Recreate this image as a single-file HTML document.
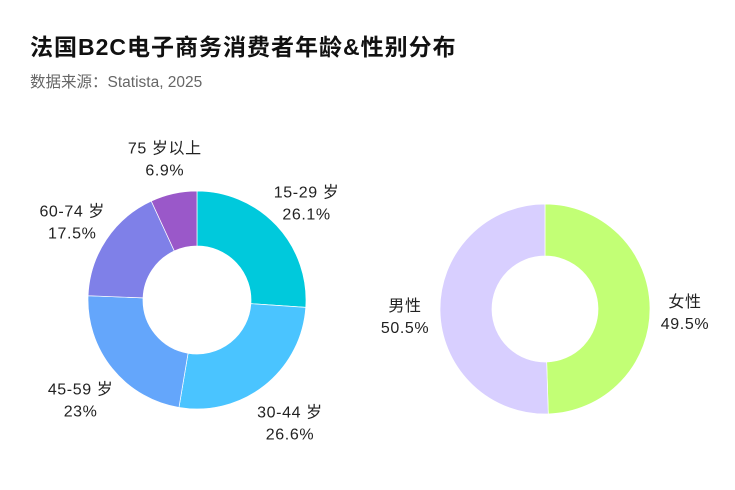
<!DOCTYPE html>
<html><head><meta charset="utf-8"><style>
body{margin:0;background:#fff;font-family:"Liberation Sans","Noto Sans CJK SC",sans-serif;}
#wrap{position:relative;width:735px;height:490px;overflow:hidden}
h1{position:absolute;left:30px;top:28px;margin:0;font-size:23px;letter-spacing:1px;font-weight:bold;color:#111;font-family:"Liberation Sans","Noto Sans CJK SC",sans-serif}
.sub{position:absolute;left:30px;top:70px;font-size:15.5px;color:#666}
</style></head><body>
<div id="wrap">
<h1>法国B2C电子商务消费者年龄&amp;性别分布</h1>
<div class="sub">数据来源：Statista, 2025</div>
<svg id="svg" width="735" height="490" style="position:absolute;left:0;top:0"></svg>
</div>
<script>
const ageCategories=["15-29 岁","30-44 岁","45-59 岁","60-74 岁","75 岁以上"];
const ageValues=[26.1,26.6,23,17.5,6.9];
const ageColors=["#00c9dc","#4ac4ff","#64a6fb","#7f80e8","#9a58c9"];
const genderCategories=["女性","男性"];
const genderValues=[49.5,50.5];
const genderColors=["#c2ff75","#d8cfff"];
const NS="http://www.w3.org/2000/svg";
const svg=document.getElementById("svg");
function pt(cx,cy,r,a){return [cx+r*Math.sin(a),cy-r*Math.cos(a)];}
function donut(name,cats,vals,cols,cx,cy,R,r,lr){
  const total=vals.reduce((a,b)=>a+b,0);let acc=0;
  vals.forEach((v,i)=>{
    const a0=acc/total*2*Math.PI;acc+=v;const a1=acc/total*2*Math.PI;
    const large=(a1-a0)>Math.PI?1:0;
    const p0=pt(cx,cy,R,a0),p1=pt(cx,cy,R,a1),q1=pt(cx,cy,r,a1),q0=pt(cx,cy,r,a0);
    const path=document.createElementNS(NS,"path");
    path.setAttribute("d",`M${p0[0]},${p0[1]}A${R},${R} 0 ${large} 1 ${p1[0]},${p1[1]}L${q1[0]},${q1[1]}A${r},${r} 0 ${large} 0 ${q0[0]},${q0[1]}Z`);
    path.setAttribute("fill",cols[i]);path.setAttribute("stroke","#fff");path.setAttribute("stroke-width","0.7");
    
    
    svg.appendChild(path);
    const m=(a0+a1)/2;const lp=pt(cx,cy,lr,m);
    const t=document.createElementNS(NS,"text");
    t.setAttribute("text-anchor","middle");t.setAttribute("font-size","16");t.setAttribute("fill","#222");
    t.setAttribute("letter-spacing","0.6");
    
    
    const s1=document.createElementNS(NS,"tspan");s1.setAttribute("x",lp[0]);s1.setAttribute("y",lp[1]);s1.textContent=cats[i];
    const s2=document.createElementNS(NS,"tspan");s2.setAttribute("x",lp[0]);s2.setAttribute("y",lp[1]+22);s2.textContent=v+"%";
    t.appendChild(s1);t.appendChild(s2);svg.appendChild(t);
  });
}
donut("age",ageCategories,ageValues,ageColors,197,300,109,54,150);
donut("gender",genderCategories,genderValues,genderColors,545,309,105,53,140);
</script>
</body></html>
